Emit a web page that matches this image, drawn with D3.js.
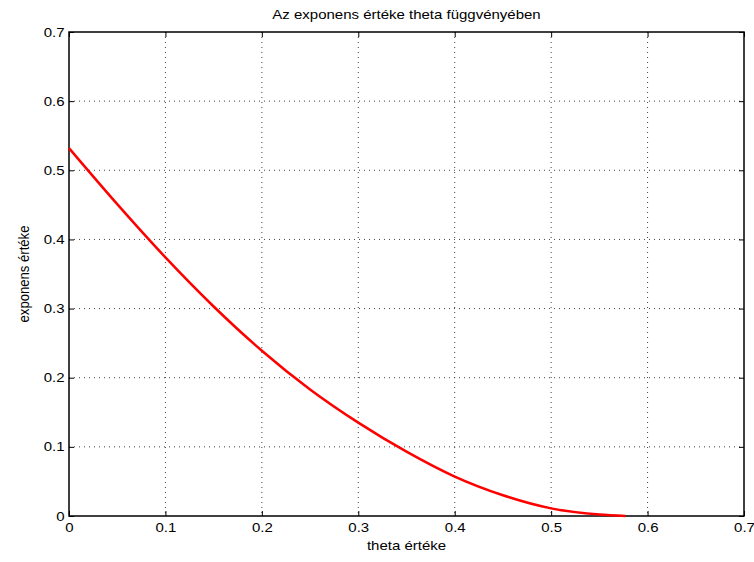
<!DOCTYPE html>
<html>
<head>
<meta charset="utf-8">
<script src="https://cdn.jsdelivr.net/npm/d3@7"></script>
<style>
  body { margin: 0; background: #fff; }
  text { font-family: "Liberation Sans", Arial, Helvetica, sans-serif; }
</style>
</head>
<body>
<div id="chart"></div>
<script>
// values
const thetaValues = [0, 0.05, 0.1, 0.15, 0.2, 0.25, 0.3, 0.35, 0.4, 0.45, 0.5, 0.55, 0.577];
const exponentValues = [0.532, 0.451, 0.374, 0.303, 0.239, 0.183, 0.135, 0.093, 0.057, 0.030, 0.011, 0.002, 0];
const xTicks = [0, 0.1, 0.2, 0.3, 0.4, 0.5, 0.6, 0.7];
const yTicks = [0, 0.1, 0.2, 0.3, 0.4, 0.5, 0.6, 0.7];

const W = 754, H = 562;
const margin = { top: 32, right: 10, bottom: 46, left: 69 };
const width = W - margin.left - margin.right;
const height = H - margin.top - margin.bottom;
const stretch = 1.2; // the reference text is wide, like stretched Helvetica

const points = thetaValues.map((t, i) => ({ t, v: exponentValues[i] }));

const svg = d3.select('#chart').append('svg')
  .attr('width', W).attr('height', H);
const g = svg.append('g').attr('transform', `translate(${margin.left},${margin.top})`);

const x = d3.scaleLinear().domain([0, 0.7]).range([0, width]);
const y = d3.scaleLinear().domain([0, 0.7]).range([height, 0]);

// dotted grid
g.append('g').selectAll('line').data(xTicks.slice(1, -1)).join('line')
  .attr('x1', d => x(d)).attr('x2', d => x(d)).attr('y1', 0).attr('y2', height)
  .attr('stroke', '#444').attr('stroke-width', 1).attr('stroke-dasharray', '1,4');
g.append('g').selectAll('line').data(yTicks.slice(1, -1)).join('line')
  .attr('y1', d => y(d)).attr('y2', d => y(d)).attr('x1', 0).attr('x2', width)
  .attr('stroke', '#444').attr('stroke-width', 1).attr('stroke-dasharray', '1,4');

const styleAxis = sel => sel
  .call(a => a.select('.domain').remove())
  .call(a => a.selectAll('.tick line').attr('stroke', '#000'))
  .call(a => a.selectAll('.tick text').attr('fill', '#000').attr('font-size', '12.5px')
    .attr('font-family', '"Liberation Sans", Arial, sans-serif'));

// bottom axis, inward ticks
g.append('g').attr('transform', `translate(0,${height})`)
  .call(d3.axisBottom(x).tickValues(xTicks).tickSize(-5).tickPadding(7).tickFormat(d => d))
  .call(styleAxis)
  .call(a => a.selectAll('.tick text').attr('transform', `scale(${stretch},1)`));
// top ticks
g.append('g')
  .call(d3.axisTop(x).tickValues(xTicks).tickSize(-5).tickFormat(''))
  .call(styleAxis);
// left axis
g.append('g')
  .call(d3.axisLeft(y).tickValues(yTicks).tickSize(-5).tickFormat(d => d))
  .call(styleAxis)
  .call(a => a.selectAll('.tick text').attr('x', -4.5 / stretch).attr('transform', `scale(${stretch},1)`));
// right ticks
g.append('g').attr('transform', `translate(${width},0)`)
  .call(d3.axisRight(y).tickValues(yTicks).tickSize(-5).tickFormat(''))
  .call(styleAxis);

// box
g.append('rect').attr('x', 0).attr('y', 0).attr('width', width).attr('height', height)
  .attr('fill', 'none').attr('stroke', '#000').attr('stroke-width', 1.5);

// curve
const line = d3.line().x(d => x(d.t)).y(d => y(d.v)).curve(d3.curveMonotoneX);
g.append('path').datum(points)
  .attr('fill', 'none').attr('stroke', '#ff0000').attr('stroke-width', 2.5).attr('d', line);

// labels
const cx = margin.left + width / 2;
svg.append('text').attr('transform', `translate(${cx},19) scale(${stretch},1)`)
  .attr('text-anchor', 'middle').attr('font-size', '12.5px')
  .text('Az exponens értéke theta függvényében');
svg.append('text').attr('transform', `translate(${cx},550) scale(${stretch},1)`)
  .attr('text-anchor', 'middle').attr('font-size', '12.5px').text('theta értéke');
svg.append('text').attr('transform', `translate(29,${margin.top + height / 2}) rotate(-90) scale(1.05,${stretch})`)
  .attr('text-anchor', 'middle').attr('font-size', '12.5px').text('exponens értéke');
</script>
</body>
</html>
